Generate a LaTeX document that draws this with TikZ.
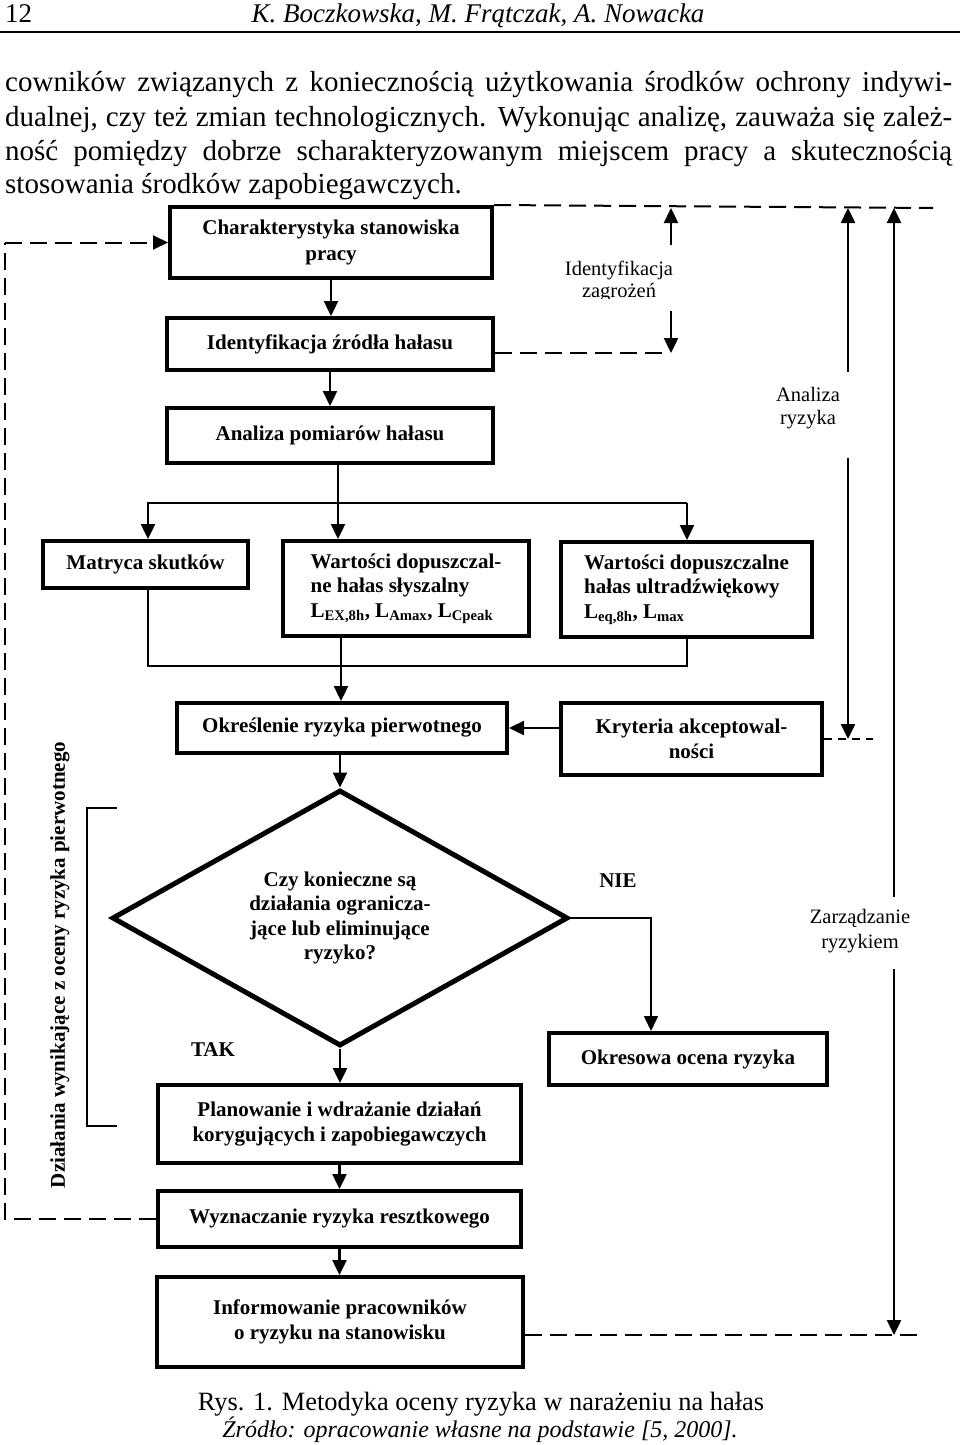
\documentclass[tikz,border=0pt]{standalone}
\usepackage{fontspec}
\setmainfont{Liberation Serif}
\usetikzlibrary{arrows.meta,shapes.geometric}
\begin{document}
\begin{tikzpicture}[x=1pt,y=-1pt,
  box/.style={draw,line width=4pt,inner sep=0pt,align=center,font=\bfseries\fontsize{21}{24.5}\selectfont},
  arr/.style={line width=2.4pt,-{Triangle[length=15pt,width=14pt]}},
  thinarr/.style={line width=1.6pt,-{Triangle[length=15pt,width=14pt]}},
  thinln/.style={line width=1.6pt},
  dsh/.style={line width=2pt,dash pattern=on 17pt off 8pt},
  dshs/.style={line width=2pt,dash pattern=on 8pt off 6pt},
  lbl/.style={font=\fontsize{20.5}{23}\selectfont,align=center,inner sep=0pt},
  yn/.style={font=\bfseries\fontsize{21}{24}\selectfont,inner sep=0pt},
  body/.style={anchor=base west,inner sep=0pt,font=\fontsize{29}{34}\selectfont},
]
\useasboundingbox (0,0) rectangle (960,1445);
\fill[white] (0,0) rectangle (960,1445);

% header
\node[anchor=base west,inner sep=0pt,font=\fontsize{27}{30}\selectfont] (pg) at (5,23) {12};
\node[anchor=base,inner sep=0pt,font=\itshape\fontsize{27}{30}\selectfont] (au) at (478,23) {K. Boczkowska, M. Frątczak, A. Nowacka};
\coordinate (hr1) at (0,32);
\coordinate (hr2) at (960,32);
\draw[line width=2pt] (hr1) -- (hr2);

% body text
\node[body] (t1) at (5,92) {\makebox[947pt][s]{cowników związanych z koniecznością użytkowania środków ochrony indywi-}};
\node[body] (t2) at (5,126) {\makebox[947pt][s]{dualnej, czy też zmian technologicznych. Wykonując analizę, zauważa się zależ-}};
\node[body] (t3) at (5,160) {\makebox[947pt][s]{ność pomiędzy dobrze scharakteryzowanym miejscem pracy a skutecznością}};
\node[body] (t4) at (5,193) {stosowania środków zapobiegawczych.};

% boxes
\node[box,minimum width=322pt,minimum height=71pt,font=\bfseries\fontsize{21}{26}\selectfont] (b1) at (331,242.5) {Charakterystyka stanowiska\\pracy};
\node[box,minimum width=326pt,minimum height=52pt] (b2) at (330,344) {Identyfikacja źródła hałasu};
\node[box,minimum width=326pt,minimum height=55pt] (b3) at (330,435.5) {Analiza pomiarów hałasu};
\node[box,minimum width=205pt,minimum height=47pt] (m) at (145.5,564.5) {Matryca skutków};
\node[box,minimum width=246pt,minimum height=95pt,align=left] (w1) at (406,588.5) {Wartości dopuszczal-\\ne hałas słyszalny\\L\textsubscript{EX,8h}, L\textsubscript{Amax}, L\textsubscript{Cpeak}};
\node[box,minimum width=251pt,minimum height=95pt,align=left] (w2) at (686.5,589.5) {Wartości dopuszczalne\\hałas ultradźwiękowy\\L\textsubscript{eq,8h}, L\textsubscript{max}};
\node[box,minimum width=330pt,minimum height=50pt] (ok) at (342,728) {Określenie ryzyka pierwotnego};
\node[box,minimum width=261pt,minimum height=72pt] (kr) at (691.5,739) {Kryteria akceptowal-\\ności};
\node[draw,diamond,shape aspect=1.78,line width=5pt,minimum width=456pt,minimum height=256pt,inner sep=0pt,align=center,font=\bfseries\fontsize{21}{24.5}\selectfont] (d) at (340,918) {Czy konieczne są\\działania ogranicza-\\jące lub eliminujące\\ryzyko?};
\node[box,minimum width=278pt,minimum height=52pt] (ores) at (688,1059) {Okresowa ocena ryzyka};
\node[box,minimum width=363pt,minimum height=78pt] (pl) at (339.5,1124) {Planowanie i wdrażanie działań\\korygujących i zapobiegawczych};
\node[box,minimum width=363pt,minimum height=56pt] (wy) at (339.5,1219) {Wyznaczanie ryzyka resztkowego};
\node[box,minimum width=366pt,minimum height=90pt] (inf) at (340,1322) {Informowanie pracowników\\o ryzyku na stanowisku};

% labels
\begin{scope}
\clip (540,250) rectangle (700,298);
\node[lbl,font=\fontsize{20.5}{22}\selectfont] (lz) at (619,281) {Identyfikacja\\zagrożeń};
\end{scope}
\node[lbl] (la) at (808,408.5) {Analiza\\ryzyka};
\node[lbl,font=\fontsize{20.5}{25}\selectfont] (lm) at (860,931.5) {Zarządzanie\\ryzykiem};
\node[yn] (nie) at (618,881) {NIE};
\node[yn] (tak) at (213,1050) {TAK};
\node[rotate=90,inner sep=0pt,font=\bfseries\fontsize{21}{24}\selectfont] (side) at (60,965) {Działania wynikające z oceny ryzyka pierwotnego};

% main flow
\draw[arr] (b1.south) -- (b1.south |- b2.north);
\draw[arr] (b2.south) -- (b2.south |- b3.north);
\coordinate (sp) at (338,0);
\draw[arr] (sp |- b3.south) -- (sp |- w1.north);
\coordinate (dL) at (148,503);
\coordinate (dR) at (687,503);
\draw[arr] (dR) -- (dL) -- (dL |- m.north);
\draw[arr] (dR) -- (dR |- w2.north);
\coordinate (mL) at (148,666);
\coordinate (mR) at (687,666);
\draw[thinln] (mL |- m.south) -- (mL) -- (mR) -- (mR |- w2.south);
\coordinate (sp2) at (341,0);
\draw[arr] (sp2 |- w1.south) -- (sp2 |- ok.north);
\draw[arr] (d.north |- ok.south) -- (d.north);
\draw[arr] (kr.west |- ok.east) -- (ok.east);
\draw[arr] (d.south) -- (d.south |- pl.north);
\coordinate (o1) at (651,918);
\draw[thinarr] (d.east) -- (o1) -- (o1 |- ores.north);
\draw[arr] (pl.south) -- (pl.south |- wy.north);
\draw[arr] (wy.south) -- (wy.south |- inf.north);

% bracket
\coordinate (k1) at (117,808);
\coordinate (k2) at (87,808);
\coordinate (k3) at (87,1126);
\coordinate (k4) at (117,1126);
\draw[thinln] (k1) -- (k2) -- (k3) -- (k4);

% dashed feedback loop on the left
\coordinate (lx) at (5,0);
\draw[dsh] (wy.west) -- (lx |- wy.west) -- (lx |- b1.west);
\draw[dsh,-{Triangle[length=15pt,width=14pt]}] (lx |- b1.west) -- (b1.west);

% right side
\coordinate (tr) at (933,208);
\draw[dsh] (b1.north east) -- (tr);
\coordinate (iz1) at (671,245);
\coordinate (iz2) at (671,311);
\coordinate (iz3) at (671,353);
\coordinate (iz4) at (662,353);
\draw[arr] (iz1) -- (iz1 |- tr);
\draw[arr] (iz2) -- (iz3);
\draw[dsh] (b2.east |- iz3) -- (iz4);
\coordinate (ar1) at (848,372);
\coordinate (ar2) at (848,458);
\coordinate (ar3) at (848,739);
\coordinate (kd) at (873,739);
\draw[arr] (ar1) -- (ar1 |- tr);
\draw[arr] (ar2) -- (ar3);
\draw[dshs] (kr.east) -- (kd);
\coordinate (zr1) at (894,897);
\coordinate (zr2) at (894,969);
\coordinate (zb) at (894,1335);
\coordinate (br) at (920,1335);
\draw[arr] (zr1) -- (zr1 |- tr);
\draw[arr] (zr2) -- (zb);
\draw[dsh] (inf.east |- zb) -- (br);

% caption
\node[anchor=base,inner sep=0pt,font=\fontsize{26.4}{30}\selectfont] (cap) at (481,1410) {Rys. 1. Metodyka oceny ryzyka w narażeniu na hałas};
\node[anchor=base,inner sep=0pt,font=\itshape\fontsize{24}{28}\selectfont] (src) at (480,1437) {Źródło: opracowanie własne na podstawie [5, 2000].};
\end{tikzpicture}
\end{document}
